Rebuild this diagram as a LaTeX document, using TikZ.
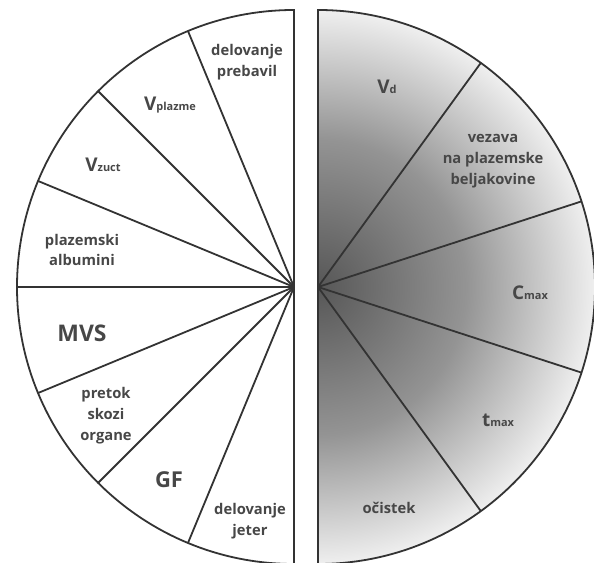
\documentclass[tikz,border=0pt]{standalone}
\usepackage{fontspec}
\setmainfont{Open Sans}
\newcommand{\velika}[1]{{\fontsize{19}{20}\selectfont #1}}
\newcommand{\mala}[1]{{\fontsize{11}{12}\selectfont #1}}
\pgfdeclareradialshading{senca}{\pgfpoint{0bp}{0bp}}{color(0bp)=(black!66); color(13bp)=(black!42); color(25bp)=(black!4); color(50bp)=(black!4)}
\begin{document}
\begin{tikzpicture}[x=1bp,y=1bp,
    rob/.style={draw=black!80, line width=1.8bp},
    napis/.style={text=black!72, font=\bfseries\fontsize{14.8}{21}\selectfont, align=center, inner sep=0pt}]
      \useasboundingbox (0,0) rectangle (594,563);

      % Desna polovica (sencenje)
      \begin{scope}
        \clip (318,276) -- (318,553) arc (90:-90:277) -- cycle;
        \shade[shading=senca] (318,276) circle (285);
      \end{scope}

      % Obrisa
      \draw[rob] (294,276) -- (294,553) arc (90:270:277) -- cycle;
      \draw[rob] (318,276) -- (318,553) arc (90:-90:277) -- cycle;

      % Leve delitve
      \draw[rob] (294,276) -- +(112.5:277);
      \draw[rob] (294,276) -- +(135:277);
      \draw[rob] (294,276) -- +(157.5:277);
      \draw[rob] (294,276) -- +(180:277);
      \draw[rob] (294,276) -- +(202.5:277);
      \draw[rob] (294,276) -- +(225:277);
      \draw[rob] (294,276) -- +(247.5:277);

      % Desne delitve
      \draw[rob] (318,276) -- +(54:277);
      \draw[rob] (318,276) -- +(18:277);
      \draw[rob] (318,276) -- +(-18:277);
      \draw[rob] (318,276) -- +(-54:277);

      % Napisi levo
      \node[napis] (prebavil) at (247,501) {delovanje\\prebavil};
      \node[napis] (vplazme) at (170,458) {\velika{V}\mala{plazme}};
      \node[napis] (vzuct) at (103,398) {\velika{V}\mala{zuct}};
      \node[napis] (albumini) at (82,313) {plazemski\\albumini};
      \node[napis, font=\bfseries\fontsize{23}{26}\selectfont] (mvs) at (82,230) {MVS};
      \node[napis] (pretok) at (106,147) {pretok\\skozi\\organe};
      \node[napis, font=\bfseries\fontsize{22}{26}\selectfont] (gf) at (169,83) {GF};
      \node[napis] (jeter) at (250,42) {delovanje\\jeter};

      % Napisi desno
      \node[napis] (vd) at (387,476) {\velika{V}\mala{d}};
      \node[napis] (vezava) at (493,402) {vezava\\na plazemske\\beljakovine};
      \node[napis] (cmax) at (530,270) {\velika{C}\mala{max}};
      \node[napis] (tmax) at (498,143) {\velika{t}\mala{max}};
      \node[napis] (ocistek) at (389,55) {očistek};
\end{tikzpicture}
\end{document}
